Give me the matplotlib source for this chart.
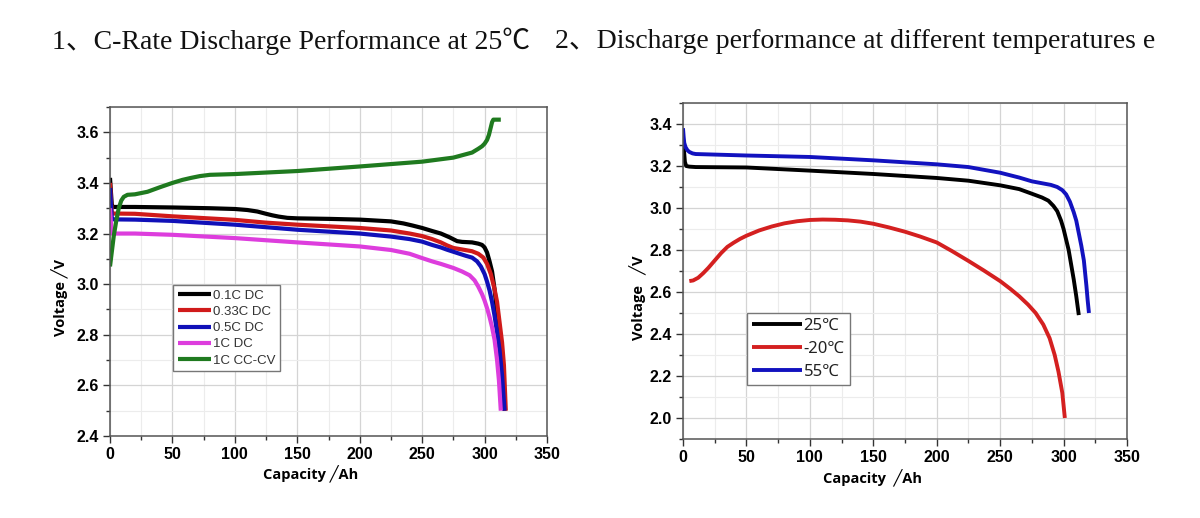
import numpy as np
import matplotlib
matplotlib.use("Agg")
import matplotlib.pyplot as plt
from matplotlib.ticker import MultipleLocator

# ---------------- data: chart 1 (C-rate discharge at 25 C) ----------------
x_01c = [0, 0.8, 1.5, 3, 20, 50, 80, 100, 110, 118, 125, 130, 135, 142, 150, 175, 200, 225, 235, 242, 250, 258, 265, 272, 278, 282, 290, 295, 298, 300, 302, 304, 306, 308, 310, 312, 314, 316]
v_01c = [3.42, 3.36, 3.31, 3.305, 3.305, 3.303, 3.30, 3.297, 3.293, 3.287, 3.278, 3.272, 3.267, 3.262, 3.26, 3.258, 3.255, 3.248, 3.24, 3.232, 3.222, 3.21, 3.20, 3.185, 3.17, 3.167, 3.165, 3.16, 3.155, 3.145, 3.125, 3.09, 3.05, 2.98, 2.886, 2.79, 2.66, 2.50]

x_033c = [0, 0.8, 1.5, 3, 20, 50, 100, 125, 150, 200, 225, 240, 250, 258, 265, 270, 275, 282, 290, 295, 299, 302, 305, 308, 310, 312, 314, 315.5, 317]
v_033c = [3.40, 3.33, 3.28, 3.279, 3.278, 3.268, 3.254, 3.243, 3.235, 3.222, 3.212, 3.20, 3.19, 3.178, 3.165, 3.153, 3.143, 3.137, 3.13, 3.12, 3.105, 3.08, 3.04, 2.98, 2.93, 2.85, 2.77, 2.68, 2.50]

x_05c = [0, 0.8, 1.5, 3, 20, 50, 100, 150, 200, 225, 240, 250, 258, 265, 270, 275, 285, 290, 294, 297, 300, 302, 304, 306, 308, 310, 312, 314, 316]
v_05c = [3.38, 3.31, 3.258, 3.256, 3.255, 3.25, 3.235, 3.215, 3.20, 3.188, 3.178, 3.168, 3.155, 3.145, 3.136, 3.128, 3.112, 3.105, 3.09, 3.07, 3.04, 3.01, 2.975, 2.93, 2.875, 2.81, 2.74, 2.64, 2.50]

x_1c = [0, 0.8, 1.5, 3, 20, 50, 100, 150, 200, 225, 240, 250, 258, 265, 275, 282, 288, 292, 295, 298, 300, 302, 304, 306, 308, 310, 311.5, 313]
v_1c = [3.30, 3.24, 3.20, 3.20, 3.20, 3.195, 3.182, 3.165, 3.149, 3.135, 3.12, 3.103, 3.09, 3.08, 3.064, 3.05, 3.035, 3.015, 2.99, 2.96, 2.935, 2.905, 2.87, 2.83, 2.78, 2.70, 2.62, 2.50]

x_cccv = [0, 1, 2, 3, 5, 7, 9, 11, 14, 20, 30, 40, 50, 58, 65, 72, 80, 100, 150, 200, 250, 275, 290, 295, 298, 300, 302, 303.5, 305, 306, 307, 313]
v_cccv = [3.07, 3.11, 3.15, 3.19, 3.25, 3.30, 3.33, 3.345, 3.353, 3.355, 3.365, 3.383, 3.40, 3.412, 3.42, 3.427, 3.432, 3.435, 3.447, 3.465, 3.484, 3.50, 3.52, 3.535, 3.545, 3.555, 3.57, 3.59, 3.62, 3.64, 3.65, 3.65]

labels1 = ["0.1C DC", "0.33C DC", "0.5C DC", "1C DC", "1C CC-CV"]

# ---------------- data: chart 2 (different temperatures) ----------------
x_25 = [0, 0.7, 1.5, 2.5, 5, 10, 50, 100, 150, 200, 225, 250, 265, 275, 283, 288, 292, 295, 298, 300, 302, 304, 306, 308, 310, 312]
v_25 = [3.33, 3.28, 3.22, 3.20, 3.197, 3.195, 3.193, 3.178, 3.162, 3.143, 3.13, 3.108, 3.09, 3.068, 3.05, 3.035, 3.01, 2.985, 2.94, 2.90, 2.85, 2.80, 2.73, 2.66, 2.58, 2.49]

x_m20 = [5, 8, 12, 16, 20, 25, 30, 35, 40, 45, 50, 60, 70, 80, 90, 100, 110, 120, 130, 140, 150, 162, 175, 187, 200, 212, 225, 237, 250, 258, 265, 272, 278, 284, 289, 293, 296, 299, 301]
v_m20 = [2.652, 2.655, 2.668, 2.69, 2.715, 2.75, 2.785, 2.815, 2.835, 2.853, 2.868, 2.893, 2.912, 2.927, 2.937, 2.943, 2.945, 2.944, 2.941, 2.935, 2.925, 2.908, 2.887, 2.864, 2.836, 2.795, 2.748, 2.703, 2.652, 2.615, 2.58, 2.54, 2.50, 2.445, 2.38, 2.30, 2.22, 2.12, 2.00]

x_55 = [0, 0.5, 1, 2, 3.5, 5, 7.5, 10, 50, 100, 150, 200, 225, 250, 265, 275, 290, 295, 299, 302, 305, 308, 310, 312, 314, 316, 318, 319, 320]
v_55 = [3.38, 3.34, 3.31, 3.29, 3.275, 3.267, 3.26, 3.257, 3.25, 3.243, 3.227, 3.208, 3.195, 3.168, 3.145, 3.127, 3.11, 3.10, 3.085, 3.065, 3.03, 2.98, 2.94, 2.88, 2.82, 2.75, 2.63, 2.56, 2.50]

labels2 = ["25℃", "-20℃", "55℃"]

# ---------------- figure ----------------
fig = plt.figure(figsize=(12, 5.18), dpi=100)
fig.patch.set_facecolor("white")

title_font = ["Liberation Serif", "Noto Sans CJK SC", "DejaVu Sans"]
fig.text(52 / 1200, 1 - 41 / 518, "1、C-Rate Discharge Performance at 25℃", family=title_font,
         fontsize=20, va="center", ha="left", color="#111111")
fig.text(555 / 1200, 1 - 41 / 518, "2、Discharge performance at different temperatures e", family=title_font,
         fontsize=20, va="center", ha="left", color="#111111")

tick_font = dict(family="Liberation Sans", weight="bold", size=11.5)
label_font = dict(family=["Open Sans", "DejaVu Sans"], weight="bold", size=10.5)


def style_axes(ax, xmaj, ymaj, ymin_):
    ax.xaxis.set_major_locator(MultipleLocator(xmaj))
    ax.xaxis.set_minor_locator(MultipleLocator(xmaj / 2))
    ax.yaxis.set_major_locator(MultipleLocator(ymaj))
    ax.yaxis.set_minor_locator(MultipleLocator(ymin_))
    ax.grid(which="major", color="#d4d4d4", linewidth=0.9)
    ax.grid(which="minor", color="#ececec", linewidth=0.8)
    ax.set_axisbelow(True)
    ax.tick_params(which="major", direction="out", length=5, width=1, color="#333333", pad=3)
    ax.tick_params(which="minor", direction="out", length=3, width=1, color="#333333")
    for sp in ax.spines.values():
        sp.set_color("#555555")
        sp.set_linewidth(1.1)
    for lab in ax.get_xticklabels() + ax.get_yticklabels():
        lab.set_fontfamily(tick_font["family"])
        lab.set_fontweight("bold")
        lab.set_fontsize(tick_font["size"])


# ---- left chart ----
ax1 = fig.add_axes([110 / 1200, 1 - 436 / 518, 437 / 1200, 329 / 518])
ax1.set_xlim(0, 350)
ax1.set_ylim(2.4, 3.7)
cols1 = ["#000000", "#d01a1a", "#1010b8", "#dd3ddd", "#1f7a1f"]
series1 = [(x_01c, v_01c), (x_033c, v_033c), (x_05c, v_05c), (x_1c, v_1c), (x_cccv, v_cccv)]
for (xs, vs), c, lab in zip(series1, cols1, labels1):
    ax1.plot(xs, vs, color=c, lw=3.0, label=lab, solid_joinstyle="round", solid_capstyle="butt")
style_axes(ax1, 50, 0.2, 0.1)
ax1.set_ylabel("Voltage ╱V", **label_font)
ax1.yaxis.set_label_coords(-0.094, 0.42)
ax1.set_xlabel("Capacity ╱Ah", **label_font)
ax1.xaxis.set_label_coords(0.458, -0.09)
leg1 = ax1.legend(loc="upper left", bbox_to_anchor=(0.144, 0.459), borderaxespad=0,
                  prop=dict(family="Liberation Sans", size=9.5), fancybox=False, framealpha=1,
                  edgecolor="#777777", handlelength=2.5, handletextpad=0.15, labelspacing=0.3,
                  borderpad=0.35)
leg1.get_frame().set_linewidth(1.0)
for t in leg1.get_texts():
    t.set_color("#333333")
for h in leg1.get_lines():
    h.set_linewidth(3.0)

# ---- right chart ----
ax2 = fig.add_axes([683 / 1200, 1 - 439 / 518, 444 / 1200, 336 / 518])
ax2.set_xlim(0, 350)
ax2.set_ylim(1.9, 3.5)
cols2 = ["#000000", "#d42020", "#1212bf"]
series2 = [(x_25, v_25), (x_m20, v_m20), (x_55, v_55)]
for (xs, vs), c, lab in zip(series2, cols2, labels2):
    ax2.plot(xs, vs, color=c, lw=2.8, label=lab, solid_joinstyle="round", solid_capstyle="butt")
style_axes(ax2, 50, 0.2, 0.1)
ax2.set_ylabel("Voltage   ╱V", **label_font)
ax2.yaxis.set_label_coords(-0.08, 0.42)
ax2.set_xlabel("Capacity  ╱Ah", **label_font)
ax2.xaxis.set_label_coords(0.426, -0.09)
leg2 = ax2.legend(loc="upper left", bbox_to_anchor=(0.144, 0.375), borderaxespad=0,
                  prop=dict(family=["Noto Sans", "DejaVu Sans"], size=12), fancybox=False, framealpha=1,
                  edgecolor="#777777", handlelength=3.0, handletextpad=0.1, labelspacing=0.42,
                  borderpad=0.3)
leg2.get_frame().set_linewidth(1.0)
for t in leg2.get_texts():
    t.set_color("#222222")
for h in leg2.get_lines():
    h.set_linewidth(2.8)

fig.savefig("out.png", dpi=100, facecolor="white")
